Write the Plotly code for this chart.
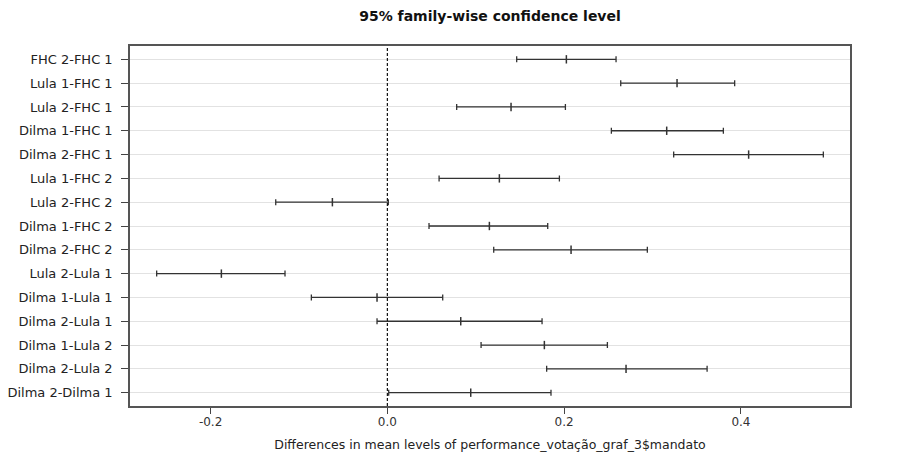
import plotly.graph_objects as go

comparisons = ["FHC 2-FHC 1", "Lula 1-FHC 1", "Lula 2-FHC 1", "Dilma 1-FHC 1", "Dilma 2-FHC 1",
               "Lula 1-FHC 2", "Lula 2-FHC 2", "Dilma 1-FHC 2", "Dilma 2-FHC 2", "Lula 2-Lula 1",
               "Dilma 1-Lula 1", "Dilma 2-Lula 1", "Dilma 1-Lula 2", "Dilma 2-Lula 2", "Dilma 2-Dilma 1"]
diff = [0.2025, 0.3277, 0.1399, 0.3160, 0.4087, 0.1267, -0.0622, 0.1154, 0.2078, -0.1878,
        -0.0117, 0.0830, 0.1776, 0.2700, 0.0943]
lwr = [0.1463, 0.2640, 0.0784, 0.2534, 0.3239, 0.0585, -0.1263, 0.0471, 0.1203, -0.2610,
       -0.0860, -0.0117, 0.1060, 0.1802, 0.0015]
upr = [0.2587, 0.3929, 0.2014, 0.3801, 0.4932, 0.1946, 0.0011, 0.1814, 0.2941, -0.1158,
       0.0626, 0.1750, 0.2489, 0.3617, 0.1851]
xticks = [-0.2, 0.0, 0.2, 0.4]
xticklabels = ["-0.2", "0.0", "0.2", "0.4"]

n = len(comparisons)
ypos = list(range(1, n + 1))
FONT = "DejaVu Sans"
LINE = "#333333"

fig = go.Figure()
fig.add_trace(go.Scatter(
    x=diff, y=ypos, mode="markers",
    marker=dict(symbol="line-ns", size=6, line=dict(width=1.5, color=LINE), color=LINE),
    error_x=dict(type="data", symmetric=False,
                 array=[u - d for u, d in zip(upr, diff)],
                 arrayminus=[d - l for d, l in zip(diff, lwr)],
                 color=LINE, thickness=1.3, width=3),
    showlegend=False, hoverinfo="skip",
))

lo = min(lwr); hi = max(upr); pad = 0.04 * (hi - lo)
fig.add_shape(type="line", x0=0, x1=0, y0=0, y1=1, xref="x", yref="paper",
              line=dict(color="#111111", width=1.2, dash="3px,2px"))

fig.update_layout(
    width=900, height=461,
    margin=dict(l=122, r=58, t=38, b=63),
    paper_bgcolor="white", plot_bgcolor="white",
    font=dict(family=FONT, size=12, color="#222222"),
    title=dict(text="<b>95% family-wise confidence level</b>", x=482 / 900, xanchor="center",
               y=1 - 8 / 461, yanchor="middle", font=dict(family=FONT, size=14, color="#111111")),
    xaxis=dict(range=[lo - pad, hi + pad], tickvals=xticks, ticktext=xticklabels,
               showgrid=False, zeroline=False, showline=True, mirror=True,
               linecolor="#555555", linewidth=1.5, ticks="outside", ticklen=6,
               ticklabelstandoff=-2, automargin=False,
               tickcolor="#444444", tickwidth=1.2, tickfont=dict(size=12, color="#333333"),
               title=dict(text="Differences in mean levels of performance_votação_graf_3$mandato",
                          font=dict(size=12.5, color="#222222"), standoff=12)),
    yaxis=dict(range=[n + 0.56, 0.44], tickvals=ypos, ticktext=comparisons,
               showgrid=True, gridcolor="#e2e2e2", gridwidth=1, zeroline=False,
               showline=True, mirror=True, linecolor="#555555", linewidth=1.5,
               ticks="outside", ticklen=7, tickcolor="#444444", tickwidth=1.2,
               automargin=False,
               ticklabelstandoff=6, tickfont=dict(size=13, color="#222222")),
)

fig.write_html("out.html")
